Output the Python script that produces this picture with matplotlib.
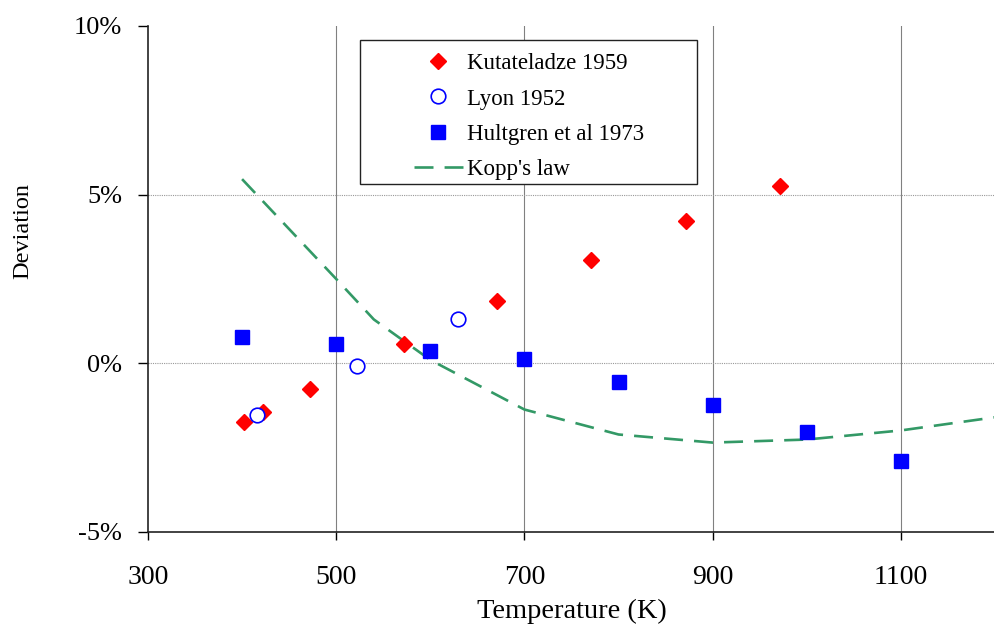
import numpy as np
import matplotlib
matplotlib.use("Agg")
import matplotlib.pyplot as plt
from matplotlib.patches import Rectangle
from matplotlib.ticker import PercentFormatter

plt.rcParams['font.family'] = ['Liberation Serif', 'DejaVu Serif']
plt.rcParams['axes.unicode_minus'] = False

# deviation from reference, in percent
kut_T = [402, 422, 472, 572, 671, 771, 872, 972]
kut_dev = [-1.75, -1.45, -0.77, 0.56, 1.84, 3.06, 4.21, 5.25]

lyon_T = [416, 522, 629]
lyon_dev = [-1.54, -0.09, 1.31]

hult_T = [400, 500, 600, 700, 800, 900, 1000, 1100]
hult_dev = [0.77, 0.56, 0.36, 0.12, -0.56, -1.25, -2.05, -2.91]

kopp_T = [400, 500, 540, 600, 700, 800, 900, 1000, 1100, 1200]
kopp_dev = [5.46, 2.5, 1.3, 0.1, -1.37, -2.11, -2.35, -2.26, -1.99, -1.6]

fig = plt.figure(figsize=(9.95, 6.26), dpi=100)
ax = fig.add_axes([0.1487, 0.1502, 0.8513, 0.8083])

ax.plot(kut_T, kut_dev, linestyle='none', marker='D', markersize=8.5,
        color='#ff0000', label='Kutateladze 1959', zorder=4)
ax.plot(lyon_T, lyon_dev, linestyle='none', marker='o', markersize=10.5,
        markerfacecolor='white', markeredgecolor='#0000ff', markeredgewidth=1.2,
        label='Lyon 1952', zorder=5)
ax.plot(hult_T, hult_dev, linestyle='none', marker='s', markersize=10,
        color='#0000ff', label='Hultgren et al 1973', zorder=4)
ax.plot(kopp_T, kopp_dev, color='#339966', linewidth=1.9, dashes=(7.2, 4.2),
        label="Kopp's law", zorder=3)

ax.set_xlim(300, 1200)
ax.set_ylim(-5, 10)
ax.set_xticks([300, 500, 700, 900, 1100])
ax.set_yticks([-5, 0, 5, 10])
ax.yaxis.set_major_formatter(PercentFormatter(100, decimals=0))

# vertical grid solid, horizontal grid dotted
for x in [500, 700, 900, 1100]:
    ax.axvline(x, color='#808080', linewidth=0.8, zorder=1)
for y in [0, 5]:
    ax.axhline(y, color='#999999', linewidth=0.8, linestyle=(0, (1, 1)), zorder=1)

ax.spines['top'].set_visible(False)
ax.spines['right'].set_visible(False)
for s in ['left', 'bottom']:
    ax.spines[s].set_linewidth(1.2)
    ax.spines[s].set_color('#222222')

ax.tick_params(axis='y', direction='out', length=7.2, width=1, pad=11.5, labelsize=19)
ax.tick_params(axis='x', direction='out', length=5.8, width=1, pad=18, labelsize=20)

ax.set_xlabel('Temperature (K)', fontsize=20.5)
ax.set_ylabel('Deviation', fontsize=17.5)
ax.xaxis.set_label_coords(0.5, -0.132)
ax.yaxis.set_label_coords(-0.135, 0.595)

# legend box drawn separately so its padding can be set freely
box = Rectangle((0.250, 0.688), 0.398, 0.284, transform=ax.transAxes,
                facecolor='white', edgecolor='#222222', linewidth=1.0, zorder=6)
ax.add_patch(box)
leg = ax.legend(loc='upper left', bbox_to_anchor=(0.314, 0.9466), borderaxespad=0,
                fontsize=16.5, frameon=False, handlelength=2.13,
                handletextpad=0.17, labelspacing=0.63, borderpad=0)
leg.set_zorder(7)

fig.savefig('out.png', dpi=100)
